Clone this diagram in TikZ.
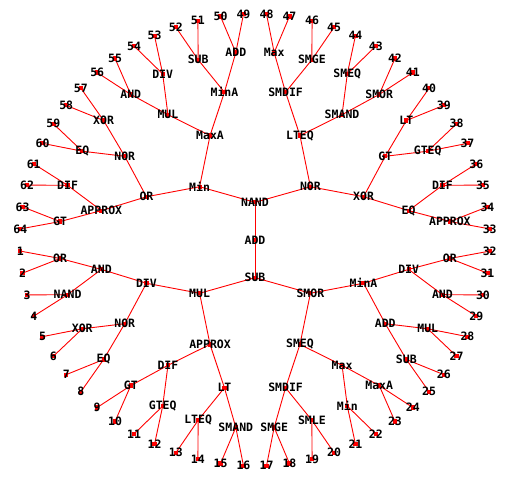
\documentclass[tikz,border=0pt]{standalone}
\usepackage{fontspec}
\newfontfamily\labfont{DejaVu Sans Mono}
\tikzset{
  edge/.style={draw=red, line width=0.9pt},
  lab/.style={font=\labfont\bfseries\fontsize{11.5}{12}\selectfont, inner sep=0pt, text=black},
  dotmark/.style={fill=red, draw=none, rectangle, minimum size=4.2pt, inner sep=0pt},
}
\begin{document}
\begin{tikzpicture}[x=1pt,y=1pt]
\fill[white] (-255,-240) rectangle (257,240);
\useasboundingbox (-255,-240) rectangle (257,240);
% positions: complete binary tree, radial (elliptic) layout
\foreach \lv in {0,...,6} {
  \pgfmathtruncatemacro{\cnt}{2^\lv}
  \pgfmathtruncatemacro{\lst}{\cnt-1}
  \foreach \ix in {0,...,\lst} {
    \pgfmathsetmacro{\ang}{182.8125+((\ix+0.5)*64/\cnt-0.5)*5.625}
    \pgfmathsetmacro{\rx}{\lv*39.17}
    \pgfmathsetmacro{\ry}{\lv*37.67}
    \coordinate (d\lv i\ix) at (\ang:\rx pt and \ry pt);
  }
}
% connectors
\foreach \lv in {0,...,5} {
  \pgfmathtruncatemacro{\cnt}{2^\lv}
  \pgfmathtruncatemacro{\lst}{\cnt-1}
  \pgfmathtruncatemacro{\nx}{\lv+1}
  \foreach \ix in {0,...,\lst} {
    \pgfmathtruncatemacro{\ca}{2*\ix}
    \pgfmathtruncatemacro{\cb}{2*\ix+1}
    \draw[edge] (d\lv i\ix) -- (d\nx i\ca);
    \draw[edge] (d\lv i\ix) -- (d\nx i\cb);
  }
}
% markers (under the labels)
\foreach \lv in {0,...,6} {
  \pgfmathtruncatemacro{\cnt}{2^\lv}
  \pgfmathtruncatemacro{\lst}{\cnt-1}
  \foreach \ix in {0,...,\lst} {
    \node[dotmark] (m\lv i\ix) at (d\lv i\ix) {};
  }
}
% labels
\node[lab] (l0i0) at (d0i0) {ADD};
\foreach \t [count=\k from 0] in {SUB,NAND} {
  \node[lab] (l1i\k) at (d1i\k) {\t};
}
\foreach \t [count=\k from 0] in {MUL,SMOR,NOR,Min} {
  \node[lab] (l2i\k) at (d2i\k) {\t};
}
\foreach \t [count=\k from 0] in {DIV,APPROX,SMEQ,MinA,XOR,LTEQ,MaxA,OR} {
  \node[lab] (l3i\k) at (d3i\k) {\t};
}
\foreach \t [count=\k from 0] in {AND,NOR,DIF,LT,SMDIF,Max,ADD,DIV,EQ,GT,SMAND,SMDIF,MinA,MUL,NOR,APPROX} {
  \node[lab] (l4i\k) at (d4i\k) {\t};
}
\foreach \t [count=\k from 0] in {OR,NAND,XOR,EQ,GT,GTEQ,LTEQ,SMAND,SMGE,SMLE,Min,MaxA,SUB,MUL,AND,OR,APPROX,DIF,GTEQ,LT,SMOR,SMEQ,SMGE,Max,ADD,SUB,DIV,AND,XOR,EQ,DIF,GT} {
  \node[lab] (l5i\k) at (d5i\k) {\t};
}
\foreach \k in {0,...,63} {
  \pgfmathtruncatemacro{\num}{\k+1}
  \node[lab] (l6i\k) at (d6i\k) {\num};
}
\end{tikzpicture}
\end{document}
